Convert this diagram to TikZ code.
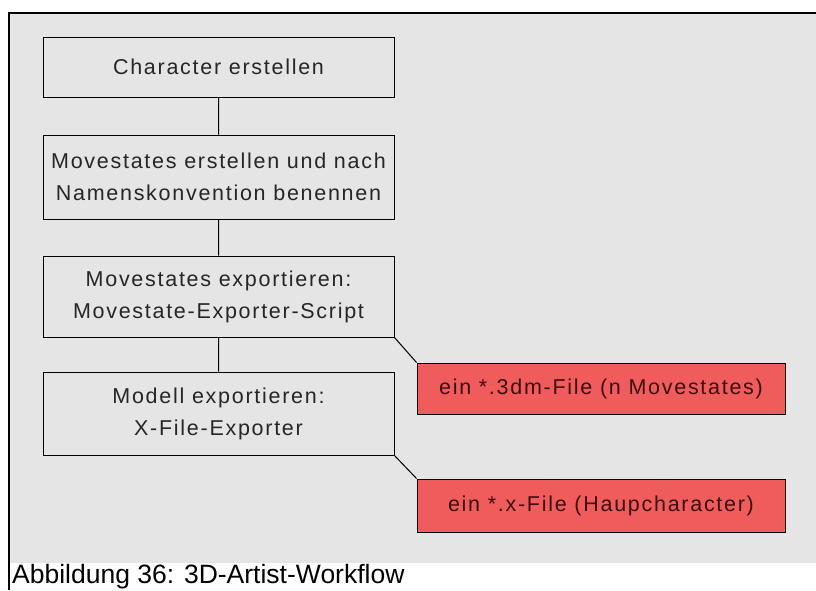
\documentclass[tikz,border=0pt]{standalone}
\usepackage{fontspec}
\setmainfont{Liberation Sans}
\newfontfamily\boxfont[LetterSpace=8]{Liberation Sans}
\definecolor{hintergrund}{RGB}{229,229,229}
\definecolor{dateirot}{RGB}{240,92,92}
\definecolor{dateitext}{RGB}{60,15,15}

\begin{document}
\begin{tikzpicture}[x=1pt, y=-1pt]
\tikzstyle{schritt}=[draw, line width=1pt, fill=hintergrund, minimum width=351pt, inner sep=0pt, align=center, text=black!85, font=\boxfont\fontsize{21.5}{32}\selectfont];
\tikzstyle{datei}=[draw, line width=1pt, fill=dateirot, minimum width=368pt, inner sep=0pt, text=dateitext, font=\boxfont\fontsize{21.5}{32}\selectfont];
\useasboundingbox (0,0) rectangle (816,590);
\fill[hintergrund] (9,14) rectangle (816,563);
\draw[line width=1.2pt] (9,590) -- (9,13) -- (816,13);
\node[schritt, minimum height=60pt] (c1) at (218.5,67) {Character erstellen};
\node[schritt, minimum height=84pt] (c2) at (218.5,177) {Movestates erstellen und nach\\Namenskonvention benennen};
\node[schritt, minimum height=81pt] (c3) at (218.5,296.5) {Movestates exportieren:\\Movestate-Exporter-Script};
\node[schritt, minimum height=83pt] (c4) at (218.5,413.5) {Modell exportieren:\\X-File-Exporter};
\node[datei, minimum height=51pt] (f1) at (601,388.5) {ein *.3dm-File (n Movestates)};
\node[datei, minimum height=53pt] (f2) at (601,505.5) {ein *.x-File (Haupcharacter)};
\node[anchor=base west, inner sep=0pt, font=\fontsize{26.5}{30}\selectfont] (cap) at (12,583) {Abbildung 36: 3D-Artist-Workflow};
\draw[line width=1pt] (c1) -- (c2)
(c2) -- (c3)
(c3) -- (c4)
(c3.south east) -- (f1.north west)
(c4.south east) -- (f2.north west);
\end{tikzpicture}
\end{document}
